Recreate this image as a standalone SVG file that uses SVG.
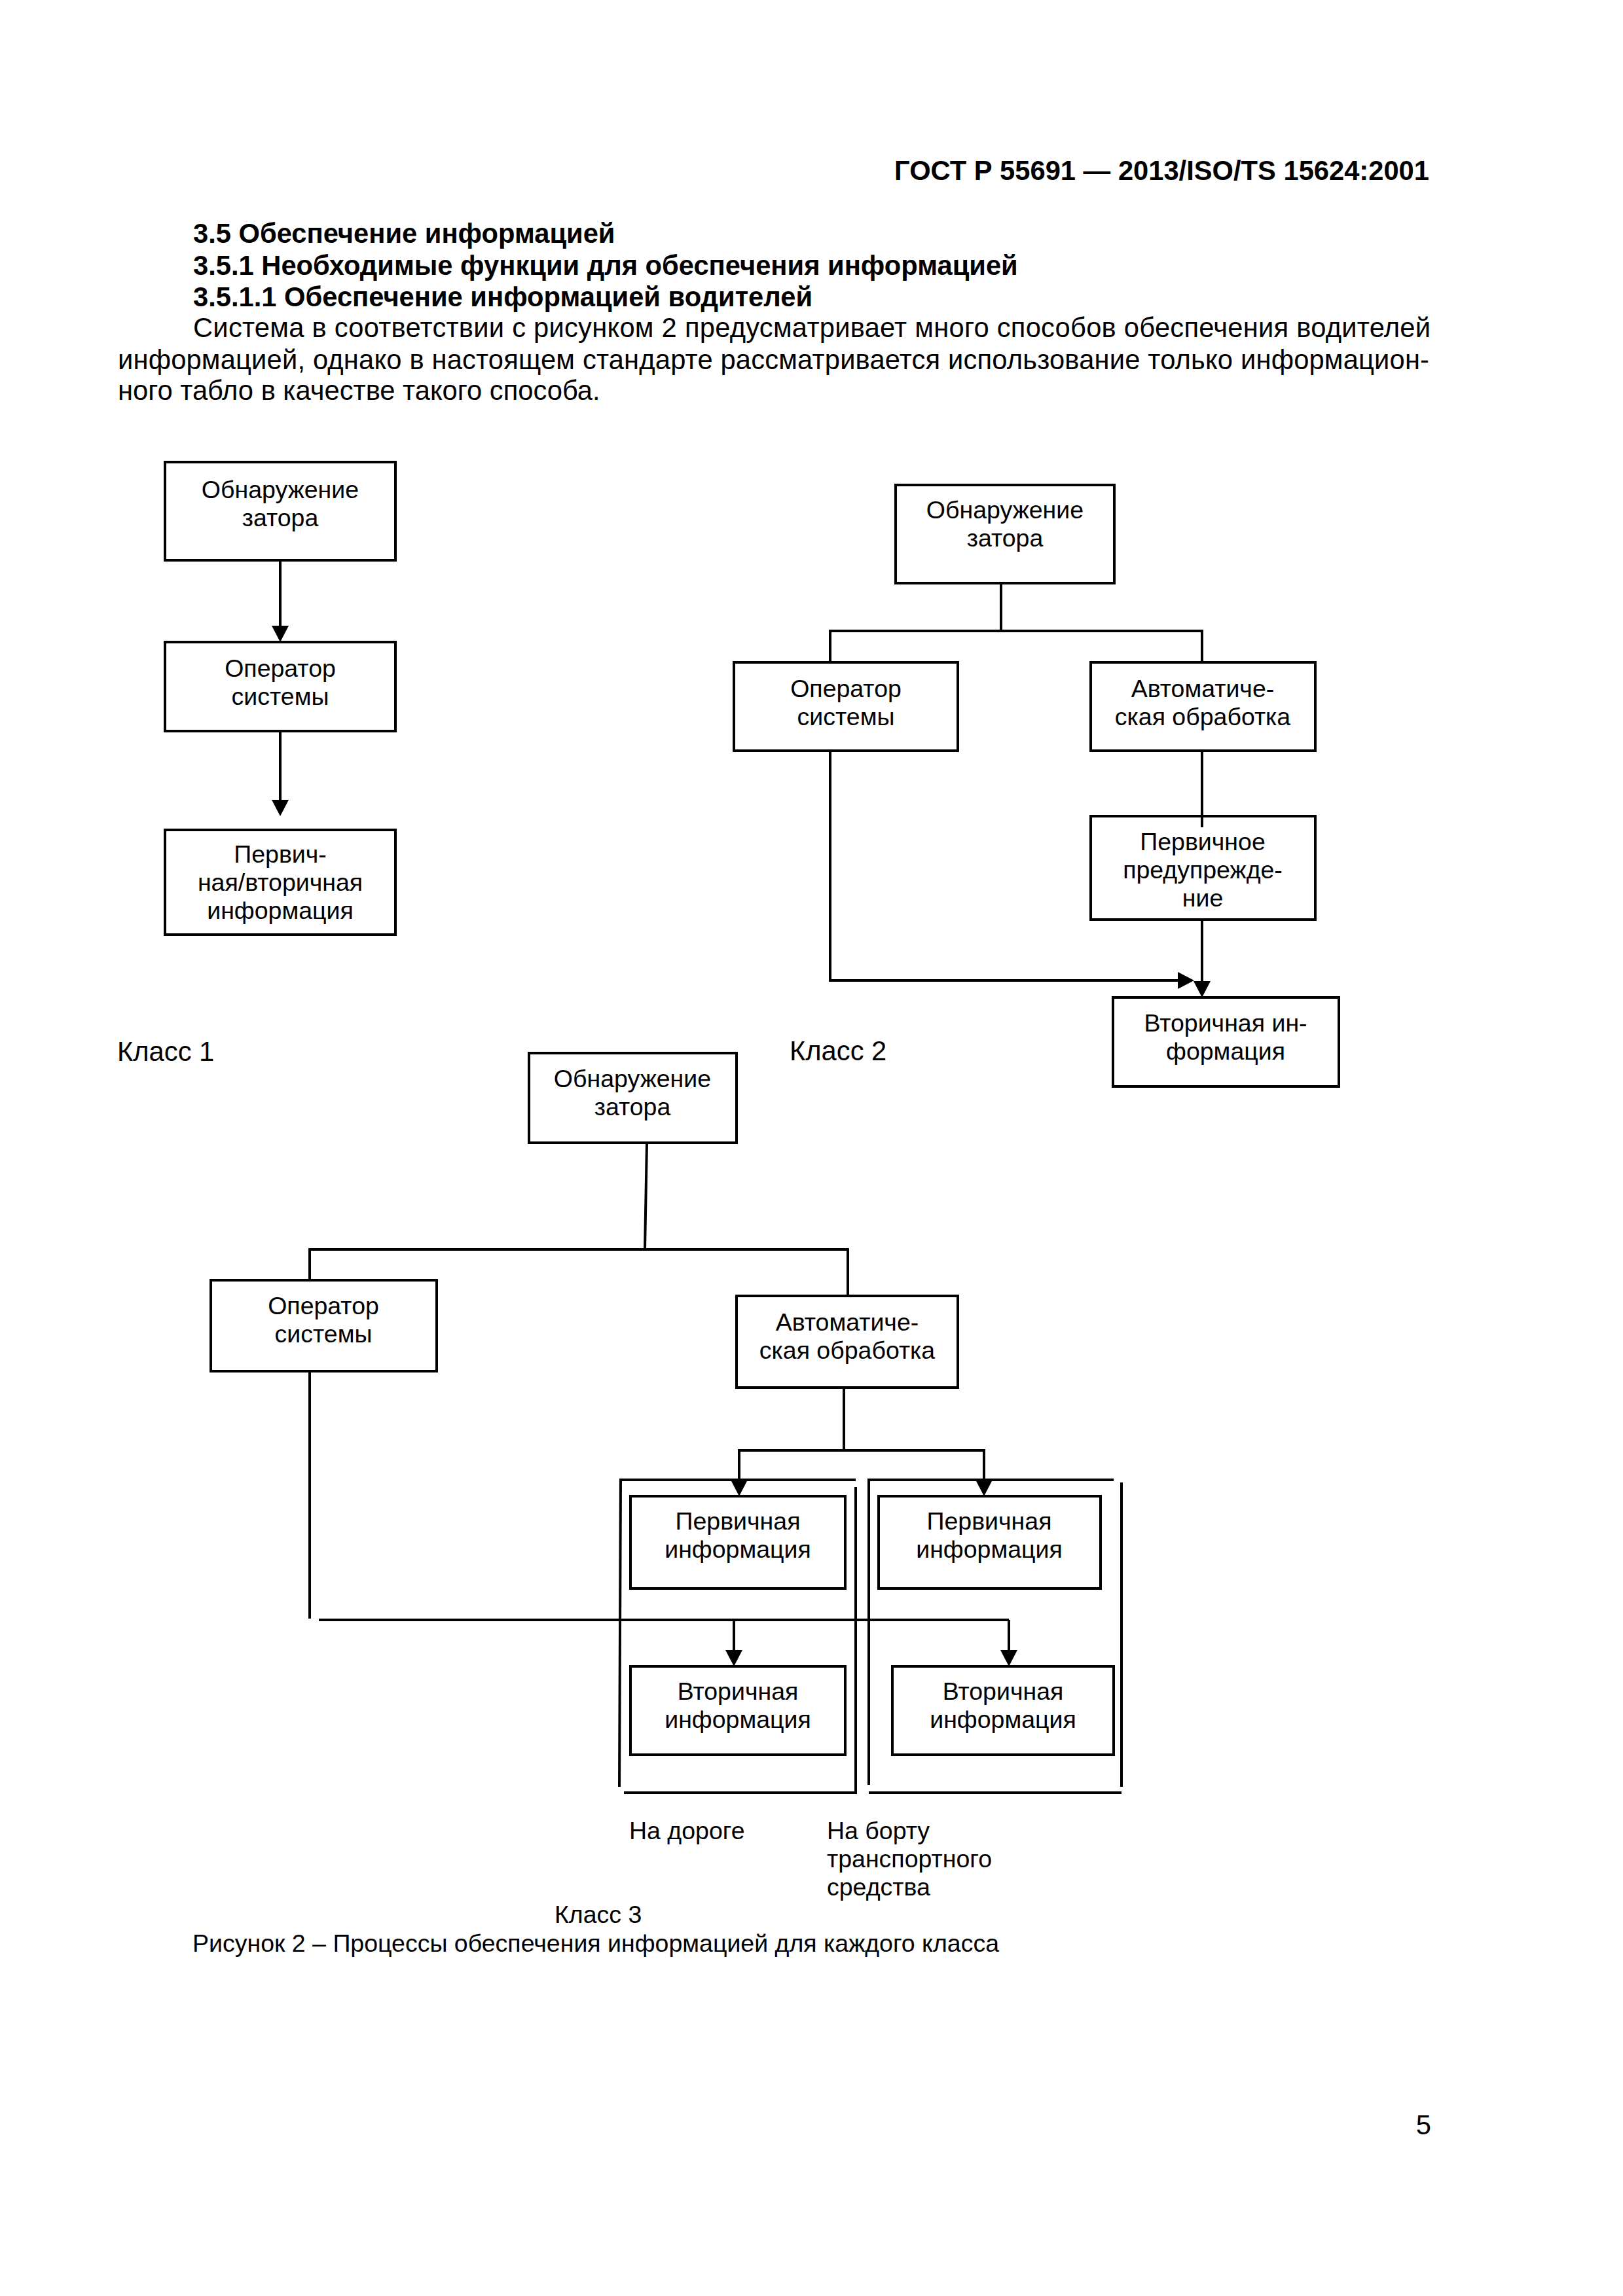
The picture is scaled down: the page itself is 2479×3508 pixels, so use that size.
<svg xmlns="http://www.w3.org/2000/svg" width="2479" height="3508" viewBox="0 0 2479 3508">
<style>
.box{fill:none;stroke:#000;stroke-width:4}
.ln{fill:none;stroke:#000;stroke-width:4}
.ar{fill:none;stroke:#000;stroke-width:4;marker-end:url(#ah)}
text{font-family:"Liberation Sans",Arial,sans-serif;fill:#000}
.t{font-size:37.5px;text-anchor:middle}
.s{font-size:37.5px}
.p{font-size:41.7px}
.b{font-weight:bold}
</style>
<defs>
<marker id="ah" markerWidth="26" markerHeight="26" refX="1" refY="13" orient="auto" markerUnits="userSpaceOnUse">
<path d="M0,0 L25,13 L0,26 z" fill="#000"/>
</marker>
</defs>
<rect width="2479" height="3508" fill="#fff"/>

<g id="page-text">
<text class="p b" x="2183" y="275" text-anchor="end">ГОСТ Р 55691 — 2013/ISO/TS 15624:2001</text>
<text class="p b" x="295" y="371">3.5 Обеспечение информацией</text>
<text class="p b" x="295" y="420">3.5.1 Необходимые функции для обеспечения информацией</text>
<text class="p b" x="295" y="468">3.5.1.1 Обеспечение информацией водителей</text>
<text class="p" x="295" y="515" textLength="1890">Система в соответствии с рисунком 2 предусматривает много способов обеспечения водителей</text>
<text class="p" x="180" y="564" textLength="2003">информацией, однако в настоящем стандарте рассматривается использование только информацион-</text>
<text class="p" x="180" y="611">ного табло в качестве такого способа.</text>
<text class="p" x="2186" y="3261" text-anchor="end">5</text>
</g>

<g id="connectors">
<!-- class 1 -->
<line class="ar" x1="428" y1="856" x2="428" y2="957"/>
<line class="ar" x1="428" y1="1117" x2="428" y2="1223"/>
<!-- class 2 -->
<line class="ln" x1="1529" y1="891" x2="1529" y2="964"/>
<polyline class="ln" points="1268,1012 1268,964 1836,964 1836,1012"/>
<line class="ln" x1="1836" y1="1147" x2="1836" y2="1264"/>
<line class="ar" x1="1836" y1="1405" x2="1836" y2="1500"/>
<polyline class="ar" points="1268,1147 1268,1498 1800,1498"/>
<!-- class 3 -->
<line class="ln" x1="988" y1="1746" x2="985" y2="1909"/>
<line class="ln" x1="471" y1="1909" x2="1297" y2="1909"/>
<line class="ln" x1="473" y1="1911" x2="473" y2="1956"/>
<line class="ln" x1="1295" y1="1909" x2="1295" y2="1978"/>
<line class="ln" x1="1289" y1="2118" x2="1289" y2="2216"/>
<polyline class="ar" points="1129,2262 1129,2216 1503,2216 1503,2262"/>
<line class="ar" x1="1129" y1="2216" x2="1129" y2="2262"/>
<line class="ln" x1="473" y1="2095" x2="473" y2="2473"/>
<line class="ln" x1="487" y1="2475" x2="1541" y2="2475"/>
<line class="ar" x1="1121" y1="2475" x2="1121" y2="2522"/>
<line class="ar" x1="1541" y1="2475" x2="1541" y2="2522"/>
<!-- brackets -->
<line class="ln" x1="946" y1="2261" x2="1307" y2="2261"/>
<line class="ln" x1="948" y1="2259" x2="946" y2="2730"/>
<line class="ln" x1="1307" y1="2272" x2="1307" y2="2741"/>
<line class="ln" x1="953" y1="2739" x2="1307" y2="2739"/>
<line class="ln" x1="1327" y1="2259" x2="1327" y2="2727"/>
<line class="ln" x1="1327" y1="2261" x2="1701" y2="2261"/>
<line class="ln" x1="1713" y1="2265" x2="1713" y2="2730"/>
<line class="ln" x1="1327" y1="2739" x2="1713" y2="2739"/>
</g>

<g id="class1-detect">
<rect class="box" x="252" y="706" width="352" height="150"/>
<text class="t" x="428" y="761">Обнаружение</text>
<text class="t" x="428" y="804">затора</text>
</g>
<g id="class1-operator">
<rect class="box" x="252" y="981" width="352" height="136"/>
<text class="t" x="428" y="1034">Оператор</text>
<text class="t" x="428" y="1077">системы</text>
</g>
<g id="class1-info">
<rect class="box" x="252" y="1268" width="352" height="160"/>
<text class="t" x="428" y="1318">Первич-</text>
<text class="t" x="428" y="1361">ная/вторичная</text>
<text class="t" x="428" y="1404">информация</text>
</g>
<text class="p" x="179" y="1621">Класс 1</text>

<g id="class2-detect">
<rect class="box" x="1368" y="741" width="334" height="150"/>
<text class="t" x="1535" y="792">Обнаружение</text>
<text class="t" x="1535" y="835">затора</text>
</g>
<g id="class2-operator">
<rect class="box" x="1121" y="1012" width="342" height="135"/>
<text class="t" x="1292" y="1065">Оператор</text>
<text class="t" x="1292" y="1108">системы</text>
</g>
<g id="class2-auto">
<rect class="box" x="1666" y="1012" width="343" height="135"/>
<text class="t" x="1837" y="1065">Автоматиче-</text>
<text class="t" x="1837" y="1108">ская обработка</text>
</g>
<g id="class2-primary">
<rect class="box" x="1666" y="1247" width="343" height="158"/>
<text class="t" x="1837" y="1299">Первичное</text>
<text class="t" x="1837" y="1342">предупрежде-</text>
<text class="t" x="1837" y="1385">ние</text>
</g>
<g id="class2-secondary">
<rect class="box" x="1700" y="1524" width="345" height="136"/>
<text class="t" x="1872" y="1576">Вторичная ин-</text>
<text class="t" x="1872" y="1619">формация</text>
</g>
<text class="p" x="1206" y="1620">Класс 2</text>

<g id="class3-detect">
<rect class="box" x="808" y="1609" width="317" height="137"/>
<text class="t" x="966" y="1661">Обнаружение</text>
<text class="t" x="966" y="1704">затора</text>
</g>
<g id="class3-operator">
<rect class="box" x="322" y="1956" width="345" height="139"/>
<text class="t" x="494" y="2008">Оператор</text>
<text class="t" x="494" y="2051">системы</text>
</g>
<g id="class3-auto">
<rect class="box" x="1125" y="1980" width="338" height="140"/>
<text class="t" x="1294" y="2033">Автоматиче-</text>
<text class="t" x="1294" y="2076">ская обработка</text>
</g>
<g id="class3-road-primary">
<rect class="box" x="963" y="2286" width="328" height="141"/>
<text class="t" x="1127" y="2337">Первичная</text>
<text class="t" x="1127" y="2380">информация</text>
</g>
<g id="class3-board-primary">
<rect class="box" x="1342" y="2286" width="339" height="141"/>
<text class="t" x="1511" y="2337">Первичная</text>
<text class="t" x="1511" y="2380">информация</text>
</g>
<g id="class3-road-secondary">
<rect class="box" x="963" y="2546" width="328" height="135"/>
<text class="t" x="1127" y="2597">Вторичная</text>
<text class="t" x="1127" y="2640">информация</text>
</g>
<g id="class3-board-secondary">
<rect class="box" x="1363" y="2546" width="338" height="135"/>
<text class="t" x="1532" y="2597">Вторичная</text>
<text class="t" x="1532" y="2640">информация</text>
</g>

<g id="labels">
<text class="s" x="961" y="2810">На дороге</text>
<text class="s" x="1263" y="2810">На борту</text>
<text class="s" x="1263" y="2853">транспортного</text>
<text class="s" x="1263" y="2896">средства</text>
<text class="s" x="847" y="2938">Класс 3</text>
<text class="s" x="294" y="2982">Рисунок 2 – Процессы обеспечения информацией для каждого класса</text>
</g>
</svg>
